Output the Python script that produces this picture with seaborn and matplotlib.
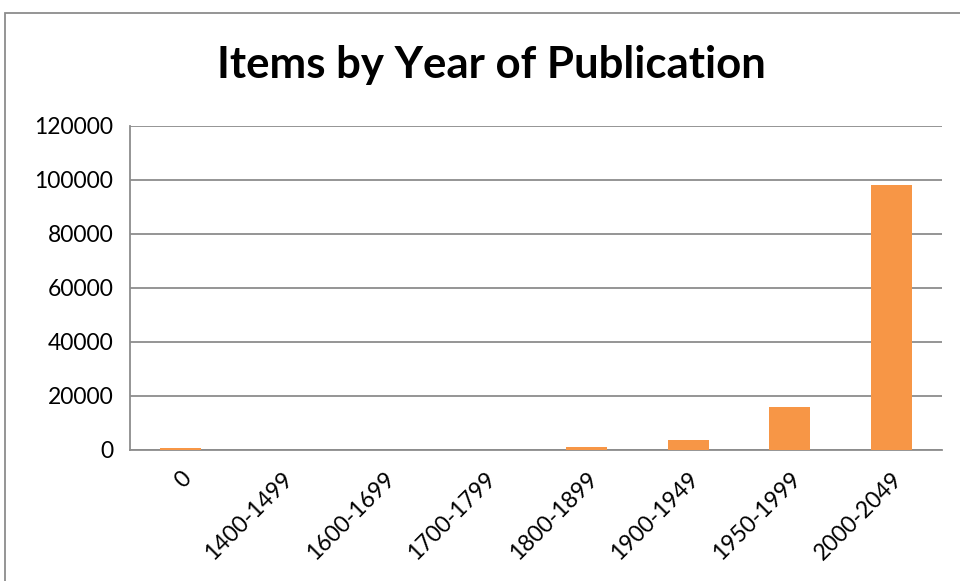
import pandas as pd
import matplotlib as mpl
import matplotlib.pyplot as plt
import seaborn as sns
from matplotlib.patches import Rectangle

sns.set_style('white')
mpl.rcParams['font.family'] = ['Lato', 'DejaVu Sans']
mpl.rcParams['ytick.direction'] = 'out'
mpl.rcParams['xtick.direction'] = 'out'
mpl.rcParams['text.color'] = 'black'
mpl.rcParams['xtick.labelcolor'] = 'black'
mpl.rcParams['ytick.labelcolor'] = 'black'

periods = ['0', '1400-1499', '1600-1699', '1700-1799', '1800-1899',
           '1900-1949', '1950-1999', '2000-2049']
items = [900, 5, 20, 60, 1000, 3700, 16100, 98200]

df = pd.DataFrame({'Period': periods, 'Items': items})

grey = '#8c8c8c'
f = plt.figure(figsize=(9.6, 5.81), dpi=100)
f.patch.set_facecolor('white')
ax = f.add_axes([130/960, 1-450/581, 812/960, 324/581])

sns.barplot(x='Period', y='Items', data=df, color='#F79646', saturation=1,
            width=0.4, linewidth=0, ax=ax, zorder=3)

ax.set_ylim(0, 120000)
ax.set_yticks(range(0, 120001, 20000))
ax.set_xlim(-0.5, len(periods) - 0.5)
ax.set_xlabel('')
ax.set_ylabel('')
ax.yaxis.grid(True, color=grey, linewidth=1.3, zorder=0)

for s in ['top', 'right']:
    ax.spines[s].set_visible(False)
for s in ['left', 'bottom']:
    ax.spines[s].set_color(grey)
    ax.spines[s].set_linewidth(1.3)

# ticks between categories on x
ax.set_xticks([i + 0.5 for i in range(-1, len(periods))], minor=True)
ax.tick_params(axis='x', which='minor', length=6, width=1.3, color=grey)
ax.tick_params(axis='x', which='major', length=0, labelsize=16.5, pad=13,
               labelcolor='black')
ax.tick_params(axis='y', length=4, width=1.3, color=grey, labelsize=16.5, pad=8,
               labelcolor='black')
plt.setp(ax.get_xticklabels(), rotation=45, ha='right', rotation_mode='anchor')

f.text(0.5115, 1 - 78/581, 'Items by Year of Publication', ha='center', va='baseline',
       fontsize=31.5, fontweight='bold', color='black')

f.patches.append(Rectangle((5/960, -0.02), 1.0, 1 - 13/581 + 0.02,
                           transform=f.transFigure, fill=False,
                           edgecolor=grey, linewidth=1.3))

plt.savefig('out.png', dpi=100)
